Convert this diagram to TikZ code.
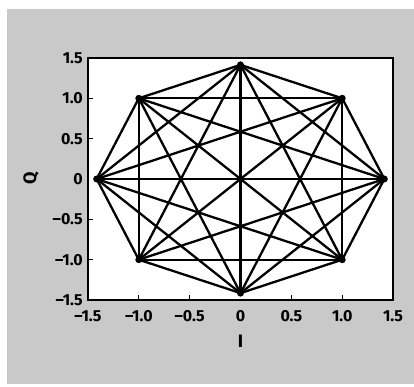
\documentclass[tikz,border=0pt]{standalone}
\usepackage{fontspec}
\setsansfont{Fira Sans}
\usepackage{xcolor}
\definecolor{panelgray}{HTML}{C9C9C9}
\usetikzlibrary{positioning}

\begin{document}
\begin{tikzpicture}[
		x=1pt, y=1pt,
		ticklabel/.style={font=\sffamily\bfseries\fontsize{16}{16}\selectfont, inner sep=0pt},
		axislabel/.style={font=\sffamily\bfseries\fontsize{18}{18}\selectfont, inner sep=0pt},
		edge/.style={line width=2.3pt, line cap=round},
		vertex/.style={circle, fill=black, inner sep=0pt, minimum size=7pt},
	]
		\useasboundingbox (0,0) rectangle (414,387);
		\fill[panelgray] (7,3) rectangle (414,378);

		\begin{scope}[shift={(240.5,208)}, x=101.7pt, y=80.7pt]
			\fill[white] (-1.5,-1.5) rectangle (1.5,1.5);

			% constellation points
			\foreach \k in {0,...,7}
				\node[vertex] (v\k) at ({sqrt(2)*cos(\k*45)}, {sqrt(2)*sin(\k*45)}) {};

			% every pair joined
			\foreach \i in {0,...,6} {
				\pgfmathtruncatemacro\nxt{\i+1}
				\foreach \j in {\nxt,...,7}
					\draw[edge] (v\i.center) -- (v\j.center);
			}

			\draw[line width=1.8pt] (-1.5,-1.5) rectangle (1.5,1.5);
			\foreach \t in {-1,-0.5,0.5,1} {
				\draw[line width=1.2pt] (\t,-1.5) -- ++(0,5pt);
				\draw[line width=1.2pt] (-1.5,\t) -- ++(5pt,0);
			}

			\foreach \t/\s in {-1.5/–1.5, -1/–1.0, -0.5/–0.5, 0/0, 0.5/0.5, 1/1.0, 1.5/1.5} {
				\node[ticklabel, anchor=north] (xl\s) at ([yshift=-10pt]\t,-1.5) {\s};
				\node[ticklabel, anchor=east] (yl\s) at ([xshift=-5pt]-1.5,\t) {\s};
			}
		\end{scope}

		\node[axislabel, rotate=90] (qlab) at (31,209) {Q};
		\node[axislabel] (ilab) at (240.5,46) {I};
	\end{tikzpicture}
\end{document}
